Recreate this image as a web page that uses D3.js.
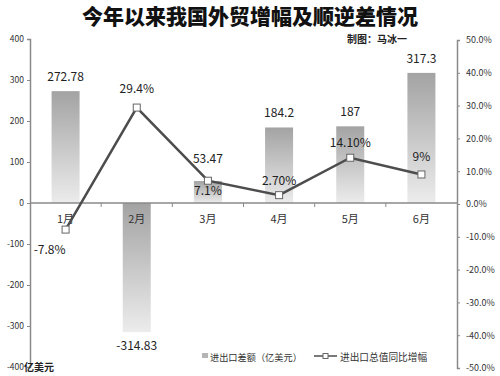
<!DOCTYPE html>
<html>
<head>
<meta charset="utf-8">
<script src="https://cdn.jsdelivr.net/npm/d3@7"></script>
<style>
  body { margin: 0; background: #fff; }
  text { font-family: "Noto Sans CJK SC", "DejaVu Sans", sans-serif; }
</style>
</head>
<body>
<div id="chart"></div>
<script>
const months = ['1月', '2月', '3月', '4月', '5月', '6月']
const balance = [272.78, -314.83, 53.47, 184.2, 187, 317.3]
const balanceLabels = ['272.78', '-314.83', '53.47', '184.2', '187', '317.3']
const growth = [-7.8, 29.4, 7.1, 2.7, 14.1, 9]
const growthLabels = ['-7.8%', '29.4%', '7.1%', '2.70%', '14.10%', '9%']
const leftTicks = [400, 300, 200, 100, 0, -100, -200, -300, -400]
const rightTicks = [50, 40, 30, 20, 10, 0, -10, -20, -30, -40, -50]

const width = 500
const height = 376
const axisColor = '#8a8a8a'

const svg = d3.select('#chart')
  .append('svg')
  .attr('width', width)
  .attr('height', height)

const defs = svg.append('defs')
const grad = defs.append('linearGradient')
  .attr('id', 'barGrad')
  .attr('x1', 0).attr('y1', 0).attr('x2', 0).attr('y2', 1)
grad.append('stop').attr('offset', '0%').attr('stop-color', '#a3a3a3')
grad.append('stop').attr('offset', '100%').attr('stop-color', '#ececec')

const xScale = d3.scaleBand().domain(months).range([30, 457])
const yLeft = d3.scaleLinear().domain([-400, 400]).range([367, 39])
const yRight = d3.scaleLinear().domain([-50, 50]).range([368, 40])

// title
svg.append('text')
  .attr('x', 250).attr('y', 24)
  .attr('text-anchor', 'middle')
  .attr('font-size', 21)
  .attr('font-weight', 900)
  .attr('fill', '#111')
  .text('今年以来我国外贸增幅及顺逆差情况')

svg.append('text')
  .attr('x', 347).attr('y', 43)
  .attr('font-size', 10)
  .attr('font-weight', 700)
  .attr('fill', '#222')
  .text('制图：马冰一')

// bars
svg.append('g')
  .selectAll('rect')
  .data(balance)
  .join('rect')
  .attr('x', (d, i) => xScale(months[i]) + xScale.bandwidth() / 2 - 14)
  .attr('y', d => yLeft(Math.max(d, 0)))
  .attr('width', 28)
  .attr('height', d => Math.abs(yLeft(d) - yLeft(0)))
  .attr('fill', 'url(#barGrad)')

// left axis
const leftAxis = svg.append('g')
  .attr('transform', 'translate(30,0)')
  .call(d3.axisLeft(yLeft).tickValues(leftTicks).tickSize(3).tickFormat(d => String(d)))
leftAxis.select('.domain').attr('stroke', axisColor).attr('stroke-width', 1.5)
leftAxis.selectAll('.tick line').attr('stroke', axisColor)
leftAxis.selectAll('.tick text')
  .attr('font-size', 8.5)
  .attr('fill', '#333')
  .attr('font-family', 'Liberation Sans, sans-serif')

// right axis
const rightAxis = svg.append('g')
  .attr('transform', 'translate(457,0)')
  .call(d3.axisRight(yRight).tickValues(rightTicks).tickSize(3).tickFormat(d => d.toFixed(1) + '%'))
rightAxis.select('.domain').attr('stroke', axisColor).attr('stroke-width', 1.5)
rightAxis.selectAll('.tick line').attr('stroke', axisColor)
rightAxis.selectAll('.tick text')
  .attr('font-size', 9)
  .attr('fill', '#333')
  .attr('x', 9)
  .attr('font-family', 'Liberation Sans, sans-serif')

// x axis at zero
const xAxis = svg.append('g')
  .attr('transform', `translate(0,${yLeft(0)})`)
xAxis.append('line')
  .attr('x1', 30).attr('x2', 457)
  .attr('stroke', axisColor).attr('stroke-width', 1.5)
xAxis.selectAll('.xtick')
  .data(months.slice(1))
  .join('line')
  .attr('x1', d => xScale(d)).attr('x2', d => xScale(d))
  .attr('y1', 0).attr('y2', 4)
  .attr('stroke', axisColor)
xAxis.selectAll('.xlabel')
  .data(months)
  .join('text')
  .attr('x', d => xScale(d) + xScale.bandwidth() / 2)
  .attr('y', 20)
  .attr('text-anchor', 'middle')
  .attr('font-size', 11)
  .attr('fill', '#333')
  .text(d => d)

// bar labels
const balanceDy = [-10, 18, -18, -10, -10, -10]
svg.append('g')
  .selectAll('text')
  .data(balance)
  .join('text')
  .attr('x', (d, i) => xScale(months[i]) + xScale.bandwidth() / 2)
  .attr('y', (d, i) => yLeft(d) + balanceDy[i])
  .attr('text-anchor', 'middle')
  .attr('font-size', 12)
  .attr('fill', '#222')
  .attr('font-family', 'DejaVu Sans, sans-serif')
  .text((d, i) => balanceLabels[i])

// growth line
const cx = i => xScale(months[i]) + xScale.bandwidth() / 2
const line = d3.line()
  .x((d, i) => cx(i))
  .y(d => yRight(d))
svg.append('path')
  .datum(growth)
  .attr('d', line)
  .attr('fill', 'none')
  .attr('stroke', '#4d4d4d')
  .attr('stroke-width', 2.5)

svg.append('g')
  .selectAll('rect')
  .data(growth)
  .join('rect')
  .attr('x', (d, i) => cx(i) - 3.5)
  .attr('y', d => yRight(d) - 3.5)
  .attr('width', 7)
  .attr('height', 7)
  .attr('fill', '#fff')
  .attr('stroke', '#666')
  .attr('stroke-width', 1)

// growth labels: offsets per point
const growthDx = [-16, 0, 0, 0, 0, 0]
const growthDy = [24, -15, 14, -10, -11, -13]
svg.append('g')
  .selectAll('text')
  .data(growth)
  .join('text')
  .attr('x', (d, i) => cx(i) + growthDx[i])
  .attr('y', (d, i) => yRight(d) + growthDy[i])
  .attr('text-anchor', 'middle')
  .attr('font-size', 12)
  .attr('fill', '#222')
  .attr('font-family', 'DejaVu Sans, sans-serif')
  .text((d, i) => growthLabels[i])

// unit label
svg.append('text')
  .attr('x', 24).attr('y', 371)
  .attr('font-size', 10)
  .attr('font-weight', 700)
  .attr('fill', '#222')
  .text('亿美元')

// legend
const legend = svg.append('g').attr('transform', 'translate(0,357)')
legend.append('rect')
  .attr('x', 202).attr('y', -4).attr('width', 6).attr('height', 5)
  .attr('fill', '#b5b5b5')
legend.append('text')
  .attr('x', 210).attr('y', 1)
  .attr('dominant-baseline', 'middle')
  .attr('font-size', 9.2)
  .attr('fill', '#333')
  .text('进出口差额（亿美元）')
legend.append('line')
  .attr('x1', 314).attr('x2', 337).attr('y1', -1).attr('y2', -1)
  .attr('stroke', '#4d4d4d').attr('stroke-width', 1.5)
legend.append('rect')
  .attr('x', 323).attr('y', -3.5).attr('width', 5).attr('height', 5)
  .attr('fill', '#fff').attr('stroke', '#666')
legend.append('text')
  .attr('x', 340).attr('y', 1)
  .attr('dominant-baseline', 'middle')
  .attr('font-size', 9.7)
  .attr('fill', '#333')
  .text('进出口总值同比增幅')
</script>
</body>
</html>
